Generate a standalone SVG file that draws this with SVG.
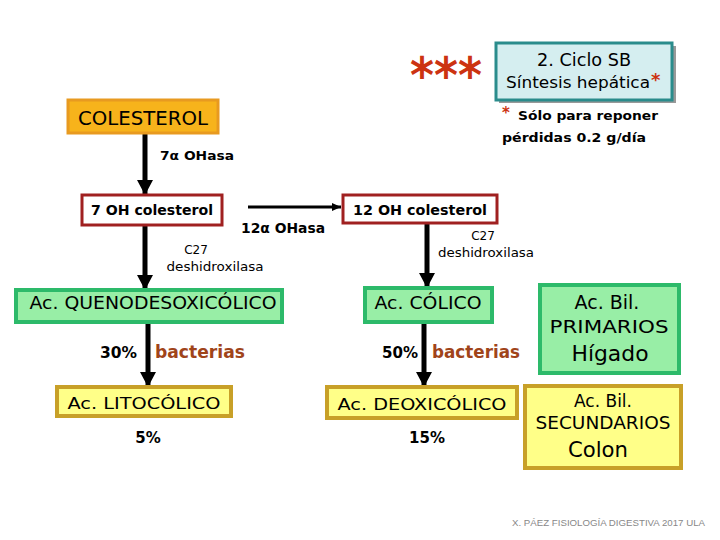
<svg xmlns="http://www.w3.org/2000/svg" width="720" height="540" viewBox="0 0 720 540">
<defs>
<style>
.t{font-family:"DejaVu Sans","Liberation Sans",sans-serif;fill:#000}
.b{font-weight:bold}
.c{text-anchor:middle}
.red{fill:#cc3311}
.brown{fill:#a0441a;font-weight:bold}
.thick{stroke:#000;stroke-width:5;fill:none}
.thin{stroke:#000;stroke-width:3;fill:none}
.green{fill:#98eea6;stroke:#2dba6a;stroke-width:4}
.yellow{fill:#ffff88;stroke:#c8a028;stroke-width:4}
.dred{fill:#fff;stroke:#a02020;stroke-width:3}
</style>
<marker id="ah" markerUnits="userSpaceOnUse" markerWidth="16" markerHeight="16" refX="15" refY="8" orient="auto">
<path d="M0,0 L15,8 L0,16 z" fill="#000"/>
</marker>
<marker id="ahs" markerUnits="userSpaceOnUse" markerWidth="10" markerHeight="10" refX="9" refY="5" orient="auto">
<path d="M0,1 L9,5 L0,9 z" fill="#000"/>
</marker>
</defs>
<rect width="720" height="540" fill="#fff"/>

<g id="connectors">
<line class="thick" x1="145" y1="133" x2="145" y2="195" marker-end="url(#ah)"/>
<line class="thick" x1="145" y1="225" x2="145" y2="290" marker-end="url(#ah)"/>
<line class="thin" x1="248" y1="207" x2="341" y2="207" marker-end="url(#ahs)"/>
<line class="thick" x1="427" y1="223" x2="427" y2="288" marker-end="url(#ah)"/>
<line class="thick" x1="148" y1="322" x2="148" y2="387" marker-end="url(#ah)"/>
<line class="thick" x1="424" y1="322" x2="424" y2="387" marker-end="url(#ah)"/>
</g>

<g id="stars">
<text class="t b red" x="410" y="93" font-size="50" textLength="72" lengthAdjust="spacingAndGlyphs">***</text>
</g>

<g id="title">
<rect x="499" y="46" width="177" height="57" fill="#999"/>
<rect x="496" y="43" width="176" height="57" fill="#d5eef0" stroke="#2a8c8c" stroke-width="3"/>
<text class="t c" x="584" y="66" font-size="18" textLength="94" lengthAdjust="spacingAndGlyphs">2. Ciclo SB</text>
<text class="t" x="506" y="88" font-size="16" textLength="144" lengthAdjust="spacingAndGlyphs">Síntesis hepática</text>
<text class="t b red" x="651" y="86" font-size="18">*</text>
</g>

<g id="note">
<text class="t b red" x="502" y="118" font-size="15">*</text>
<text class="t b" x="518" y="120" font-size="13" textLength="140" lengthAdjust="spacingAndGlyphs">Sólo para reponer</text>
<text class="t b" x="502" y="142" font-size="13" textLength="144" lengthAdjust="spacingAndGlyphs">pérdidas 0.2 g/día</text>
</g>

<g id="colesterol">
<rect x="68" y="100" width="150" height="33" fill="#f7b31b" stroke="#e89a20" stroke-width="3"/>
<text class="t c" x="143" y="125" font-size="19" textLength="130" lengthAdjust="spacingAndGlyphs">COLESTEROL</text>
</g>

<g id="lbl-7a">
<text class="t b" x="160" y="160" font-size="13" textLength="74" lengthAdjust="spacingAndGlyphs">7α OHasa</text>
</g>

<g id="oh7">
<rect class="dred" x="82" y="195" width="140" height="30"/>
<text class="t b c" x="152" y="215" font-size="14" textLength="122" lengthAdjust="spacingAndGlyphs">7 OH colesterol</text>
</g>

<g id="lbl-12a">
<text class="t b" x="241" y="233" font-size="14" textLength="84" lengthAdjust="spacingAndGlyphs">12α OHasa</text>
</g>

<g id="lbl-c27-left">
<text class="t c" x="196" y="254" font-size="12">C27</text>
<text class="t c" x="215" y="271" font-size="12" textLength="97" lengthAdjust="spacingAndGlyphs">deshidroxilasa</text>
</g>

<g id="oh12">
<rect class="dred" x="343" y="195" width="154" height="28"/>
<text class="t b c" x="420" y="215" font-size="14" textLength="134" lengthAdjust="spacingAndGlyphs">12 OH colesterol</text>
</g>

<g id="lbl-c27-right">
<text class="t c" x="483" y="240" font-size="12">C27</text>
<text class="t c" x="486" y="257" font-size="12" textLength="96" lengthAdjust="spacingAndGlyphs">deshidroxilasa</text>
</g>

<g id="queno">
<rect class="green" x="16" y="290" width="266" height="32"/>
<text class="t c" x="153" y="309" font-size="17" textLength="247" lengthAdjust="spacingAndGlyphs">Ac. QUENODESOXICÓLICO</text>
</g>

<g id="lbl-30">
<text class="t b" x="100" y="358" font-size="15" textLength="37" lengthAdjust="spacingAndGlyphs">30%</text>
<text class="t brown" x="155" y="358" font-size="17" textLength="90" lengthAdjust="spacingAndGlyphs">bacterias</text>
</g>

<g id="lito">
<rect class="yellow" x="57" y="387" width="174" height="29"/>
<text class="t c" x="144" y="409" font-size="16" textLength="153" lengthAdjust="spacingAndGlyphs">Ac. LITOCÓLICO</text>
</g>
<g id="lbl-5">
<text class="t b c" x="148" y="443" font-size="15">5%</text>
</g>

<g id="colico">
<rect class="green" x="365" y="288" width="127" height="34"/>
<text class="t c" x="428" y="309" font-size="17" textLength="107" lengthAdjust="spacingAndGlyphs">Ac. CÓLICO</text>
</g>

<g id="lbl-50">
<text class="t b" x="382" y="358" font-size="15" textLength="36" lengthAdjust="spacingAndGlyphs">50%</text>
<text class="t brown" x="432" y="358" font-size="17" textLength="88" lengthAdjust="spacingAndGlyphs">bacterias</text>
</g>

<g id="deoxi">
<rect class="yellow" x="327" y="387" width="190" height="31"/>
<text class="t c" x="422" y="410" font-size="16" textLength="169" lengthAdjust="spacingAndGlyphs">Ac. DEOXICÓLICO</text>
</g>
<g id="lbl-15">
<text class="t b c" x="427" y="443" font-size="15">15%</text>
</g>

<g id="primarios">
<rect class="green" x="540" y="285" width="139" height="88"/>
<text class="t c" x="607" y="309" font-size="19">Ac. Bil.</text>
<text class="t c" x="609" y="333" font-size="18" textLength="119" lengthAdjust="spacingAndGlyphs">PRIMARIOS</text>
<text class="t c" x="610" y="361" font-size="22" textLength="77" lengthAdjust="spacingAndGlyphs">Hígado</text>
</g>

<g id="secundarios">
<rect class="yellow" x="525" y="386" width="156" height="82"/>
<text class="t c" x="603" y="407" font-size="17">Ac. Bil.</text>
<text class="t c" x="603" y="429" font-size="17" textLength="135" lengthAdjust="spacingAndGlyphs">SECUNDARIOS</text>
<text class="t c" x="598" y="457" font-size="22" textLength="60" lengthAdjust="spacingAndGlyphs">Colon</text>
</g>

<g id="footer">
<text x="512" y="526" font-family="Liberation Sans, sans-serif" font-size="9" fill="#888" textLength="193" lengthAdjust="spacingAndGlyphs">X. PÁEZ   FISIOLOGÍA DIGESTIVA 2017 ULA</text>
</g>
</svg>
